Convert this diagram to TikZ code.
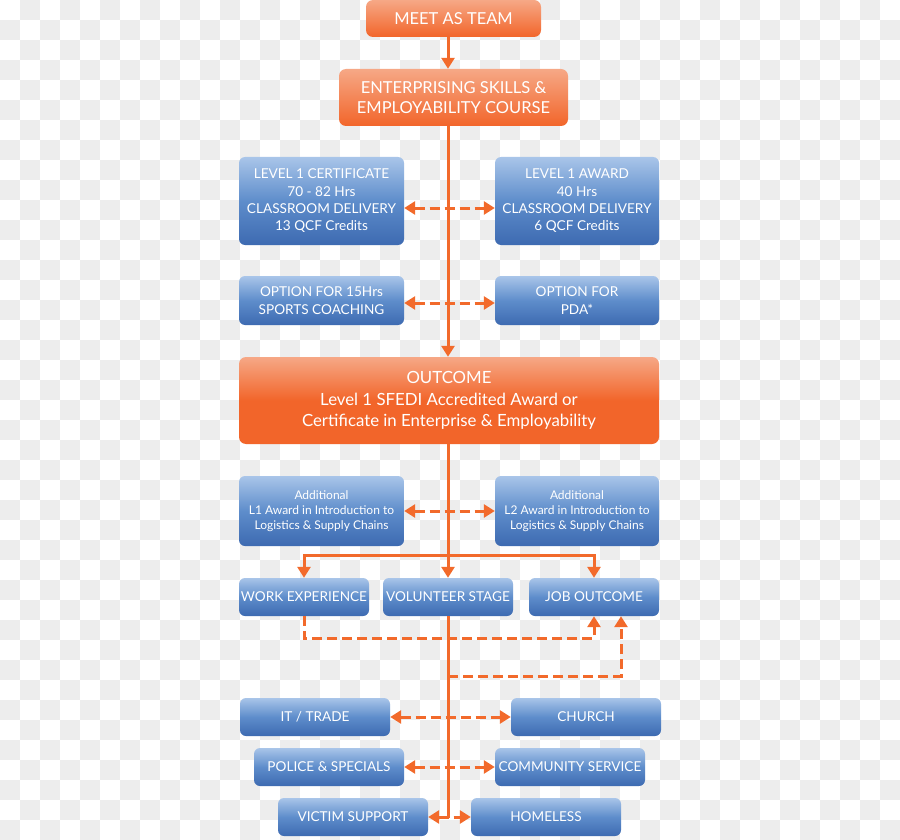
\documentclass[tikz,border=0pt]{standalone}
\usepackage{fontspec}
\setmainfont{Lato}
\usepackage{tikz}
\usetikzlibrary{arrows.meta,positioning,calc}
\definecolor{flow}{HTML}{F26A2B}
\definecolor{checker}{HTML}{EDEDED}
\definecolor{orangetop}{HTML}{F6A886}
\definecolor{orangebot}{HTML}{F2652A}
\definecolor{bluetop}{HTML}{A9C5E9}
\definecolor{bluemid}{HTML}{5E8DCB}
\definecolor{bluebot}{HTML}{3D6AB1}

\begin{document}
\begin{tikzpicture}[x=1pt,y=-1pt,>={Triangle[length=11pt,width=13pt]},
  orangebox/.style={rounded corners=7pt,top color=orangetop,bottom color=orangebot,text=white,align=center,inner sep=0pt},
  bluebox/.style={rounded corners=6pt,top color=bluetop,bottom color=bluebot,middle color=bluemid,text=white,align=center,inner sep=0pt},
  big/.style={font=\fontsize{16.5}{20}\selectfont},
  mid/.style={font=\fontsize{13.6}{17.3}\selectfont},
  small/.style={font=\fontsize{12}{15}\selectfont},
  link/.style={flow,line width=3pt},
  dlink/.style={link,dash pattern=on 10pt off 5pt}]
\useasboundingbox (0,0) rectangle (900,840);
% checkered background
\fill[white] (0,0) rectangle (900,840);
\foreach \i in {0,...,44}{
  \foreach \j in {0,...,41}{
    \pgfmathtruncatemacro\odd{mod(\i+\j,2)}
    \ifnum\odd=1 \fill[checker] (20*\i,20*\j) rectangle ++(20,20); \fi
  }
}

% course
\node[orangebox,big,minimum width=175,minimum height=37] (meet) at (453.5,18.5) {MEET AS TEAM};
\node[orangebox,big,minimum width=229,minimum height=57] (course) at (453.5,97.5) {ENTERPRISING SKILLS \&\\EMPLOYABILITY COURSE};
\node[bluebox,mid,minimum width=165,minimum height=88] (cert) at (321.5,201) {LEVEL 1 CERTIFICATE\\70 - 82 Hrs\\CLASSROOM DELIVERY\\13 QCF Credits};
\node[bluebox,mid,minimum width=164,minimum height=88] (award) at (577,201) {LEVEL 1 AWARD\\40 Hrs\\CLASSROOM DELIVERY\\6 QCF Credits};
\node[bluebox,mid,minimum width=165,minimum height=49] (sports) at (321.5,300.5) {OPTION FOR 15Hrs\\SPORTS COACHING};
\node[bluebox,mid,minimum width=164,minimum height=49] (pda) at (577,300.5) {OPTION FOR\\PDA*};

% outcome
\node[orangebox,middle color=orangebot,font=\fontsize{16.8}{21.5}\selectfont,minimum width=420,minimum height=87] (outcome) at (449,400.5) {OUTCOME\\Level 1 SFEDI Accredited Award or\\Certificate in Enterprise \& Employability};
\node[bluebox,small,minimum width=165,minimum height=70] (addl1) at (321.5,511) {Additional\\L1 Award in Introduction to\\Logistics \& Supply Chains};
\node[bluebox,small,minimum width=164,minimum height=70] (addl2) at (577,511) {Additional\\L2 Award in Introduction to\\Logistics \& Supply Chains};

% next steps
\node[bluebox,mid,minimum width=130,minimum height=38] (work) at (304,597) {WORK EXPERIENCE};
\node[bluebox,mid,minimum width=130,minimum height=38] (vol) at (448,597) {VOLUNTEER STAGE};
\node[bluebox,mid,minimum width=130,minimum height=38] (job) at (594,597) {JOB OUTCOME};

% volunteering
\node[bluebox,mid,minimum width=150,minimum height=38] (it) at (315,717) {IT / TRADE};
\node[bluebox,mid,minimum width=150,minimum height=38] (church) at (586,717) {CHURCH};
\node[bluebox,mid,minimum width=150,minimum height=38] (police) at (329,767) {POLICE \& SPECIALS};
\node[bluebox,mid,minimum width=150,minimum height=38] (community) at (570,767) {COMMUNITY SERVICE};
\node[bluebox,mid,minimum width=150,minimum height=38] (victim) at (353,817) {VICTIM SUPPORT};
\node[bluebox,mid,minimum width=150,minimum height=38] (homeless) at (546,817) {HOMELESS};

\coordinate (trunk) at (448,0);
\coordinate (split) at (448,555);
\coordinate (tap) at (448,676);
\coordinate (tail) at (448,818);

\draw[link,->] (meet.south -| trunk) -- (course.north -| trunk);
\draw[link,->] (course.south -| trunk) -- (outcome.north -| trunk);
\draw[dlink,<->] ([yshift=-7pt]cert.east) -- ([yshift=-7pt]award.west);
\draw[dlink,<->] ([yshift=-2.5pt]sports.east) -- ([yshift=-2.5pt]pda.west);
\draw[dlink,<->] (addl1) -- (addl2);
\draw[link] (outcome.south -| trunk) -- (split);
\draw[link,->] (split) -- (vol.north);
\draw[link,->] (split) -| (work.north);
\draw[link,->] (split) -| (job.north);
\draw[dlink,->] (work.south) -- ++(0,22) -| (job.south);
\draw[link] (vol.south) -- (tail);
\draw[dlink,->] (tap) -| ([xshift=27pt]job.south);
\draw[dlink,<->] (it) -- (church);
\draw[dlink,<->] (police) -- (community);
\draw[dlink,<->] (victim) -- (homeless);
\end{tikzpicture}
\end{document}
